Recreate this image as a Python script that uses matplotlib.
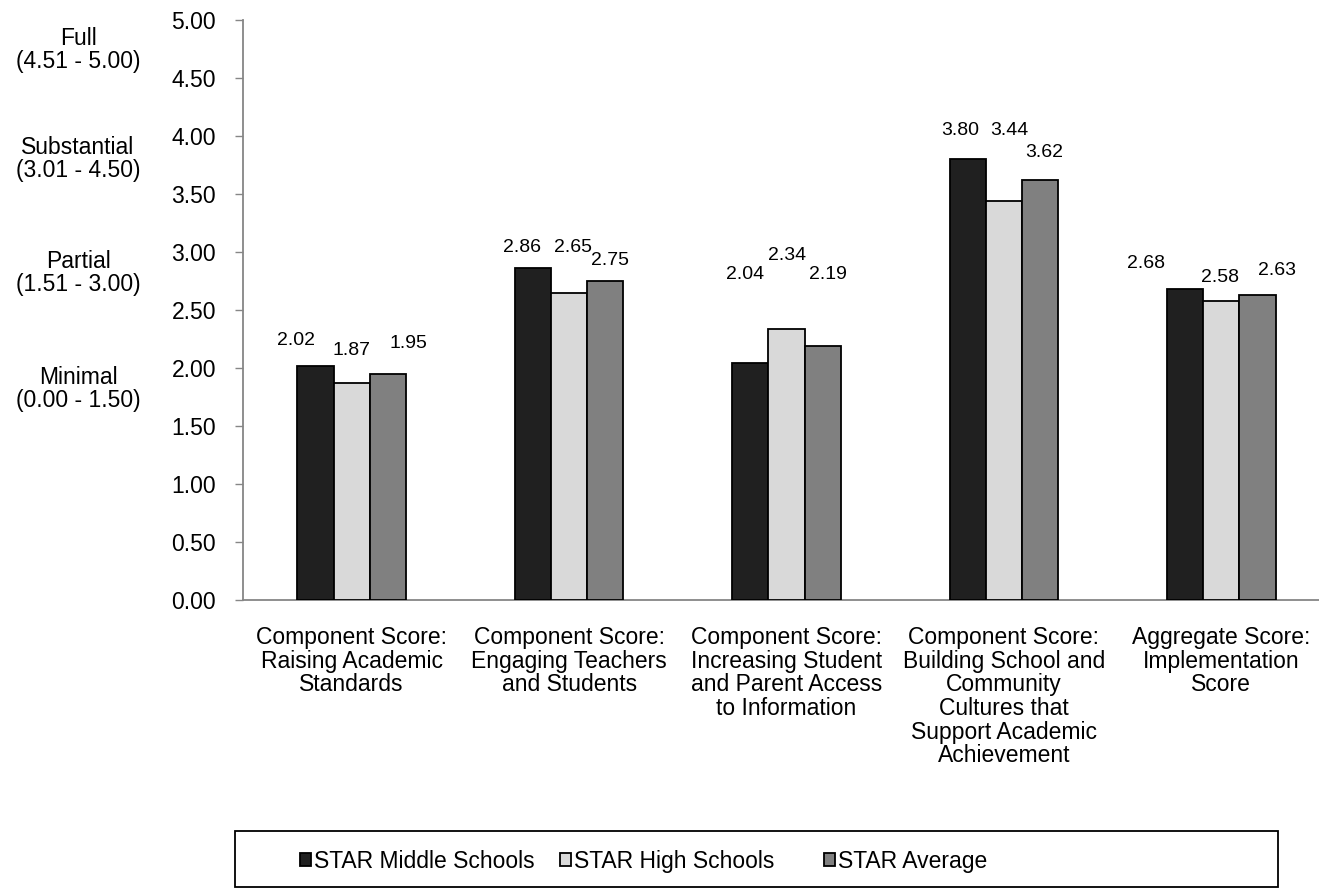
import matplotlib
matplotlib.use("Agg")
import matplotlib.pyplot as plt
import matplotlib.transforms as mtransforms
from matplotlib.patches import Rectangle
import numpy as np

plt.rcParams['font.family'] = ['Liberation Sans', 'DejaVu Sans']

categories = [
    "Component Score:\nRaising Academic\nStandards",
    "Component Score:\nEngaging Teachers\nand Students",
    "Component Score:\nIncreasing Student\nand Parent Access\nto Information",
    "Component Score:\nBuilding School and\nCommunity\nCultures that\nSupport Academic\nAchievement",
    "Aggregate Score:\nImplementation\nScore",
]
series_names = ["STAR Middle Schools", "STAR High Schools", "STAR Average"]
middle = [2.02, 2.86, 2.04, 3.80, 2.68]
high = [1.87, 2.65, 2.34, 3.44, 2.58]
average = [1.95, 2.75, 2.19, 3.62, 2.63]
yticks = [0.0, 0.5, 1.0, 1.5, 2.0, 2.5, 3.0, 3.5, 4.0, 4.5, 5.0]
band_labels = ["Full\n(4.51 - 5.00)", "Substantial\n(3.01 - 4.50)",
               "Partial\n(1.51 - 3.00)", "Minimal\n(0.00 - 1.50)"]
band_positions = [4.74, 3.80, 2.82, 1.82]

# hand-placed value label centres (x in category units, y in score units)
label_x = [
    [-0.256, 0.783, 1.808, 2.797, 3.652],
    [-0.003, 1.017, 2.001, 3.026, 3.992],
    [0.263, 1.187, 2.190, 3.187, 4.254],
]
label_y = [
    [2.24, 3.04, 2.81, 4.05, 2.90],
    [2.15, 3.04, 2.97, 4.05, 2.78],
    [2.21, 2.93, 2.81, 3.86, 2.84],
]

colors = ["#202020", "#d9d9d9", "#808080"]
axis_grey = "#868686"
FS = 16.5
VFS = 14
LS = 1.03

W, H = 1319, 888
fig = plt.figure(figsize=(W / 100, H / 100), dpi=100)
ax_left, ax_right = 243 / W, 1330 / W
ax_bottom, ax_top = 1 - 600 / H, 1 - 20 / H
ax = fig.add_axes([ax_left, ax_bottom, ax_right - ax_left, ax_top - ax_bottom])

x = np.arange(len(categories))
bw = 1 / 6
handles = []
for i, (vals, col, name) in enumerate(zip([middle, high, average], colors, series_names)):
    pos = x + (i - 1) * bw
    bars = ax.bar(pos, vals, width=bw, color=col, edgecolor="black", linewidth=1.3,
                  label=name, zorder=3)
    handles.append(bars)
    for p, v, lx, ly in zip(pos, vals, label_x[i], label_y[i]):
        ax.annotate(f"{v:.2f}", (p, v), xytext=(lx, ly), textcoords="data",
                    ha="center", va="center", fontsize=VFS, color="black")

ax.set_xlim(-0.5, len(categories) - 0.5)
ax.set_ylim(0, 5)
ax.set_yticks(yticks)
ax.set_yticklabels([f"{t:.2f}" for t in yticks], fontsize=FS)
ax.set_xticks(x)
ax.set_xticklabels(categories, fontsize=FS, linespacing=LS, va="top")
ax.tick_params(axis="x", length=0, pad=19)
ax.tick_params(axis="y", length=6, width=1, color=axis_grey, pad=13.5)
for s in ["top", "right"]:
    ax.spines[s].set_visible(False)
for s in ["left", "bottom"]:
    ax.spines[s].set_color(axis_grey)
    ax.spines[s].set_linewidth(1.3)

# rating bands written beside the value axis
band_tr = mtransforms.blended_transform_factory(fig.transFigure, ax.transData)
for lab, yv in zip(band_labels, band_positions):
    fig.text(78 / W, yv, lab, ha="center", va="center", fontsize=FS,
             linespacing=LS, transform=band_tr)

# legend box with evenly spaced entries
fig.patches.append(Rectangle((235 / W, 1 - 887 / H), (1278 - 235) / W, 56 / H,
                             transform=fig.transFigure, facecolor="none",
                             edgecolor="black", linewidth=1.3))
for h, name, xl in zip(handles, series_names, [300, 560, 824]):
    fig.legend([h], [name], loc="center left", bbox_to_anchor=(xl / W, 1 - 861 / H),
               frameon=False, fontsize=FS, handlelength=0.5, handleheight=0.5,
               handletextpad=0.1, borderpad=0, borderaxespad=0)

fig.savefig("out.png", dpi=100)
